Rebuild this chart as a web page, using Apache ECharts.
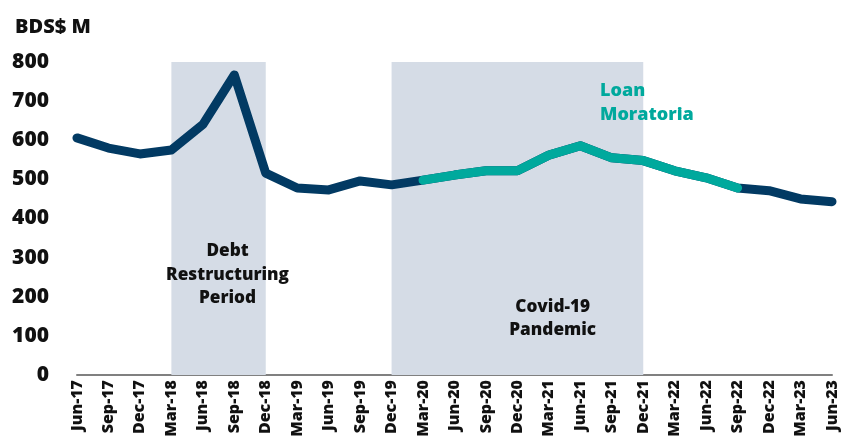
<!DOCTYPE html>
<html>
<head>
<meta charset="utf-8">
<script src="https://cdn.jsdelivr.net/npm/echarts@6/dist/echarts.min.js"></script>
<style>
  html, body { margin: 0; padding: 0; background: #fff; }
  #chart { width: 841px; height: 445px; }
</style>
</head>
<body>
<div id="chart"></div>
<script>
// quarters, Jun-17 .. Jun-23
const quarters = ['Jun-17', 'Sep-17', 'Dec-17', 'Mar-18', 'Jun-18', 'Sep-18', 'Dec-18',
  'Mar-19', 'Jun-19', 'Sep-19', 'Dec-19', 'Mar-20', 'Jun-20', 'Sep-20', 'Dec-20',
  'Mar-21', 'Jun-21', 'Sep-21', 'Dec-21', 'Mar-22', 'Jun-22', 'Sep-22', 'Dec-22',
  'Mar-23', 'Jun-23'];
const values = [606, 580, 565, 575, 640, 767, 516, 478, 473, 496, 486, 498, 511,
  522, 522, 562, 586, 555, 548, 522, 504, 478, 471, 450, 443];
// loan moratoria period highlighted in teal
const moratoriaStart = 'Mar-20';
const moratoriaEnd = 'Sep-22';
const periods = [
  { from: 'Mar-18', to: 'Dec-18', label: 'Debt\nRestructuring\nPeriod', pos: ['59.5%', '68%'] },
  { from: 'Dec-19', to: 'Dec-21', label: 'Covid-19\nPandemic', pos: ['64%', '82%'] }
];
const yTicks = { min: 0, max: 800, step: 100 };

const NAVY = '#023a63';
const TEAL = '#00a99d';
const FONT = '"Open Sans", "DejaVu Sans", sans-serif';

const i0 = quarters.indexOf(moratoriaStart);
const i1 = quarters.indexOf(moratoriaEnd);
const tealData = values.map((v, i) => (i >= i0 && i <= i1 ? v : null));

const chart = echarts.init(document.getElementById('chart'));
chart.setOption({
  animation: false,
  textStyle: { fontFamily: FONT },
  title: [
    {
      text: 'BDS$ M', left: 10, top: 12,
      textStyle: { fontFamily: FONT, fontWeight: 800, fontSize: 20, color: '#111' }
    },
    {
      text: 'Loan\nMoratoria', left: 595, top: 74,
      textStyle: { fontFamily: FONT, fontWeight: 800, fontSize: 18, lineHeight: 24, color: TEAL }
    }
  ],
  grid: { left: 77, right: 9, top: 62, bottom: 70, containLabel: false },
  xAxis: {
    type: 'category',
    data: quarters,
    boundaryGap: false,
    axisTick: { show: false },
    axisLine: { lineStyle: { color: '#808080', width: 2 } },
    axisLabel: {
      rotate: 90, interval: 0, margin: 5,
      fontFamily: FONT, fontWeight: 800, fontSize: 16, color: '#111'
    }
  },
  yAxis: {
    type: 'value',
    min: yTicks.min, max: yTicks.max, interval: yTicks.step,
    splitLine: { show: false },
    axisLine: { show: false },
    axisTick: { show: false },
    axisLabel: { margin: 28, fontFamily: FONT, fontWeight: 800, fontSize: 21, color: '#111' }
  },
  series: [
    {
      type: 'line',
      data: values,
      symbol: 'none',
      z: 3,
      lineStyle: { color: NAVY, width: 9, cap: 'round', join: 'round' },
      markArea: {
        silent: true,
        itemStyle: { color: '#d5dce6' },
        label: {
          fontFamily: FONT, fontWeight: 800, fontSize: 17.2, lineHeight: 23.5,
          color: '#111', align: 'center', verticalAlign: 'middle'
        },
        data: periods.map(p => [
          { xAxis: p.from, yAxis: yTicks.max, name: p.label, label: { position: p.pos } },
          { xAxis: p.to, yAxis: yTicks.min }
        ])
      }
    },
    {
      type: 'line',
      data: tealData,
      symbol: 'none',
      z: 4,
      connectNulls: false,
      lineStyle: { color: TEAL, width: 9, cap: 'round', join: 'round' }
    }
  ]
});
</script>
</body>
</html>
